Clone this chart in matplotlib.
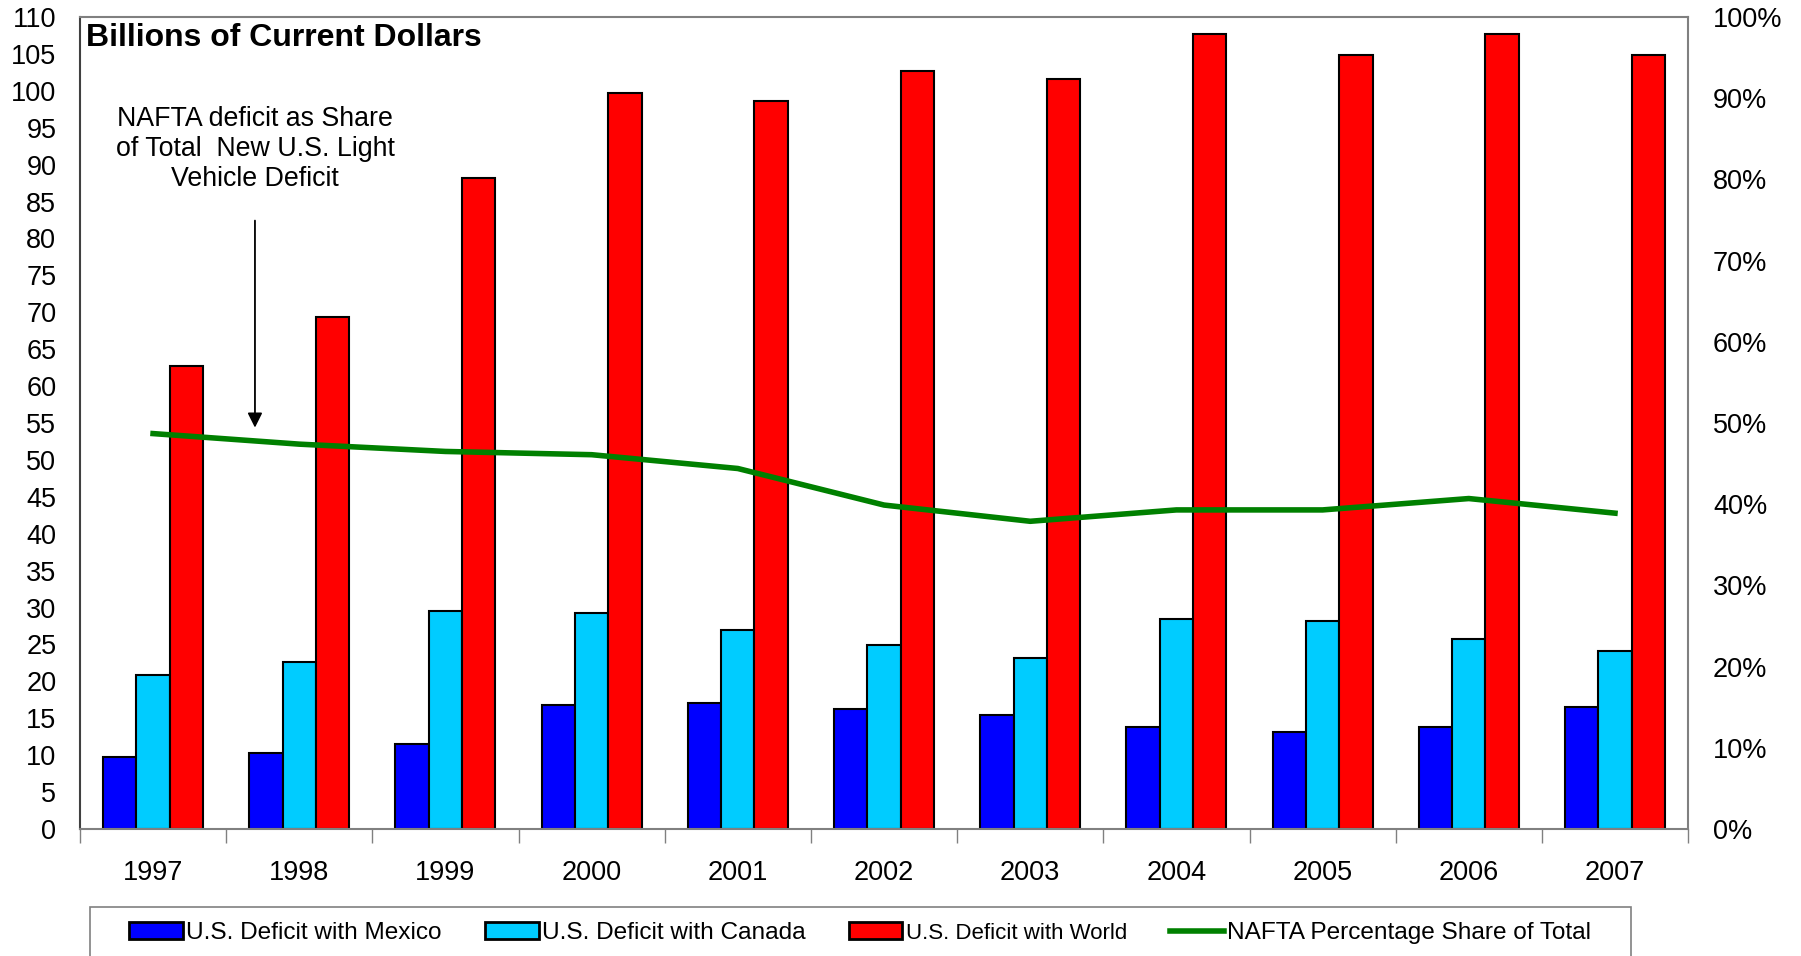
import matplotlib
matplotlib.use("Agg")
import matplotlib.pyplot as plt
import numpy as np
from matplotlib.patches import Patch, Rectangle
from matplotlib.lines import Line2D
from matplotlib.ticker import FuncFormatter, MultipleLocator, FixedLocator

plt.rcParams["font.family"] = ["Liberation Sans", "DejaVu Sans"]

years = ["1997", "1998", "1999", "2000", "2001", "2002",
         "2003", "2004", "2005", "2006", "2007"]
mexico = [9.8, 10.3, 11.5, 16.8, 17.1, 16.2, 15.4, 13.8, 13.1, 13.8, 16.6]
canada = [20.8, 22.6, 29.6, 29.3, 26.9, 24.9, 23.2, 28.5, 28.2, 25.7, 24.1]
world = [62.7, 69.4, 88.2, 99.7, 98.6, 102.7, 101.6, 107.7, 104.9, 107.7, 104.9]
nafta_share = [0.487, 0.474, 0.465, 0.461, 0.444, 0.399,
               0.379, 0.393, 0.393, 0.407, 0.389]

series_names = ["U.S. Deficit with Mexico", "U.S. Deficit with Canada",
                "U.S. Deficit with World", "NAFTA Percentage Share of Total"]

c_mex, c_can, c_world, c_line = "#0000FF", "#00CCFF", "#FF0000", "#008000"

W, H = 1801, 956
fig = plt.figure(figsize=(W / 100, H / 100), dpi=100)
ax = fig.add_axes([0.0444, 0.1328, 0.8929, 0.8494])

x = np.arange(len(years))
w = 0.228
bar_kw = dict(width=w, edgecolor="black", linewidth=1.5, zorder=2)
ax.bar(x - w, mexico, color=c_mex, **bar_kw)
ax.bar(x, canada, color=c_can, **bar_kw)
ax.bar(x + w, world, color=c_world, **bar_kw)

ax.set_xlim(-0.5, len(years) - 0.5)
ax.set_ylim(0, 110)
ax.yaxis.set_major_locator(MultipleLocator(5))
ax.tick_params(axis="y", length=0, pad=17, labelsize=19.5)
ax.set_xticks(x)
ax.set_xticklabels(years)
ax.tick_params(axis="x", which="major", length=0, pad=22, labelsize=19.5)
ax.xaxis.set_minor_locator(FixedLocator(np.arange(-0.5, len(years), 1.0)))
ax.tick_params(axis="x", which="minor", length=10, width=1, color="#808080",
               direction="out")

for side in ["top", "right", "bottom"]:
    ax.spines[side].set_color("#808080")
    ax.spines[side].set_linewidth(1.5)
ax.spines["left"].set_color("#404040")
ax.spines["left"].set_linewidth(1.5)

# percentage share on the secondary axis
ax2 = ax.twinx()
ax2.plot(x, nafta_share, color=c_line, linewidth=4, zorder=3)
ax2.set_ylim(0, 1)
ax2.yaxis.set_major_locator(MultipleLocator(0.1))
ax2.yaxis.set_major_formatter(FuncFormatter(lambda v, _: f"{v * 100:.0f}%"))
ax2.tick_params(axis="y", length=0, pad=18, labelsize=19.5)
for side in ["top", "right", "bottom", "left"]:
    ax2.spines[side].set_visible(False)

ax.text(0.004, 0.974, "Billions of Current Dollars", transform=ax.transAxes,
        fontsize=23, fontweight="bold", ha="left", va="center")

ax.text(0.697, 92.1, "NAFTA deficit as Share\nof Total  New U.S. Light\nVehicle Deficit",
        fontsize=19.3, ha="center", va="center", linespacing=1.2)
ax.annotate("", xy=(0.697, 54.0), xytext=(0.697, 82.8),
            arrowprops=dict(arrowstyle="-|>", color="black", lw=1.3,
                            mutation_scale=22))

# legend frame runs off the bottom edge of the figure
fig.patches.append(Rectangle((90 / W, -0.05), (1631 - 90) / W, 0.05 + 1 - 907 / H,
                             transform=fig.transFigure, fill=False,
                             edgecolor="#808080", linewidth=1.2))

handles = [
    Patch(facecolor=c_mex, edgecolor="black", linewidth=2),
    Patch(facecolor=c_can, edgecolor="black", linewidth=2),
    Patch(facecolor=c_world, edgecolor="black", linewidth=2),
    Line2D([0], [0], color=c_line, linewidth=4),
]
leg = fig.legend(handles, series_names, loc="center left",
                 bbox_to_anchor=(129 / W, 1 - 933 / H), ncol=4,
                 fontsize=17.6, frameon=False,
                 handlelength=2.2, handletextpad=0.15, columnspacing=1.75,
                 borderpad=0, borderaxespad=0)
leg.get_texts()[2].set_fontsize(16)

fig.savefig("out.png", dpi=100)
